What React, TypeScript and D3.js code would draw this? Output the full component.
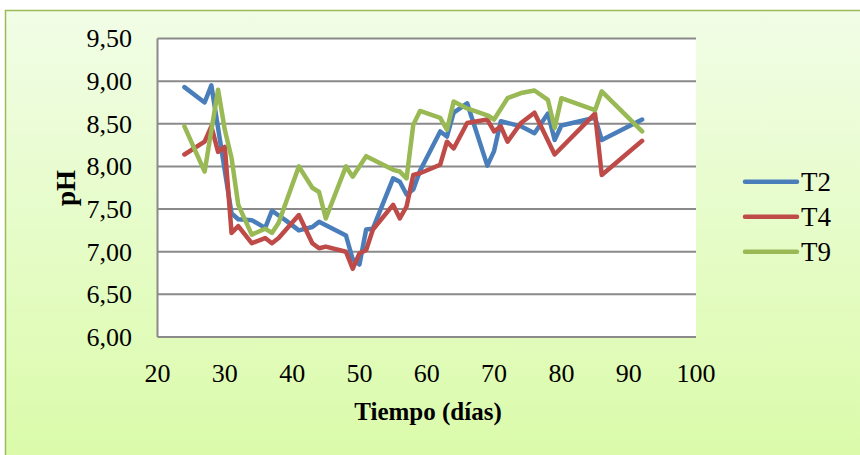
import React from "react";
import * as d3 from "d3";

const yTicks = [6.0, 6.5, 7.0, 7.5, 8.0, 8.5, 9.0, 9.5];
const xTicks = [20, 30, 40, 50, 60, 70, 80, 90, 100];

const t2Days = [24, 27, 28, 31, 32, 34, 36, 37, 39, 41, 43, 44, 48, 49, 50, 51, 52, 55, 56, 57, 58, 59, 62, 63, 64, 66, 69, 70, 71, 74, 76, 78, 79, 80, 85, 86, 92];
const t2Values = [8.93, 8.75, 8.95, 7.45, 7.38, 7.37, 7.28, 7.48, 7.37, 7.25, 7.29, 7.35, 7.19, 6.91, 6.85, 7.26, 7.27, 7.86, 7.82, 7.67, 7.73, 7.95, 8.41, 8.35, 8.63, 8.74, 8.01, 8.18, 8.53, 8.47, 8.39, 8.62, 8.31, 8.48, 8.57, 8.31, 8.55];

const t4Days = [24, 27, 28, 29, 30, 31, 32, 34, 36, 37, 38, 41, 43, 44, 45, 48, 49, 50, 51, 52, 55, 56, 57, 58, 59, 62, 63, 64, 66, 69, 70, 71, 72, 74, 76, 79, 85, 86, 92];
const t4Values = [8.14, 8.29, 8.47, 8.17, 8.23, 7.22, 7.3, 7.1, 7.16, 7.1, 7.16, 7.43, 7.1, 7.04, 7.06, 7.0, 6.8, 6.98, 7.02, 7.26, 7.55, 7.39, 7.53, 7.9, 7.92, 8.02, 8.29, 8.21, 8.51, 8.55, 8.41, 8.47, 8.29, 8.51, 8.63, 8.14, 8.62, 7.9, 8.3];

const t9Days = [24, 27, 29, 30, 31, 32, 34, 36, 37, 38, 41, 43, 44, 45, 48, 49, 51, 55, 56, 57, 58, 59, 62, 63, 64, 66, 69, 70, 72, 74, 76, 78, 79, 80, 85, 86, 92];
const t9Values = [8.47, 7.94, 8.9, 8.43, 8.1, 7.55, 7.2, 7.27, 7.22, 7.34, 8.0, 7.75, 7.7, 7.39, 8.0, 7.88, 8.12, 7.96, 7.94, 7.86, 8.49, 8.65, 8.57, 8.43, 8.76, 8.68, 8.6, 8.55, 8.8, 8.86, 8.89, 8.78, 8.45, 8.8, 8.66, 8.88, 8.41];

const seriesNames = ["T2", "T4", "T9"];
const seriesColors = ["#4a7ebb", "#be4b48", "#98b954"];

export default function App() {
  const W = 860;
  const H = 455;
  const left = 157.5;
  const right = 696;
  const top = 38.5;
  const bottom = 337;
  const x = d3.scaleLinear().domain([20, 100]).range([left, right]);
  const y = d3.scaleLinear().domain([6, 9.5]).range([bottom, top]);
  const line = d3
    .line<[number, number]>()
    .x((d) => x(d[0]))
    .y((d) => y(d[1]));
  const series = [
    t2Days.map((d, i) => [d, t2Values[i]] as [number, number]),
    t4Days.map((d, i) => [d, t4Values[i]] as [number, number]),
    t9Days.map((d, i) => [d, t9Values[i]] as [number, number]),
  ];
  const ts: React.CSSProperties = { fontFamily: '"Liberation Serif"' };
  const fmt = (v: number) => v.toFixed(2).replace(".", ",");

  return (
    <svg
      width={W}
      height={H}
      style={{ position: "absolute", left: 0, top: 0, display: "block" }}
    >
      <defs>
        <linearGradient id="bg" x1="0" y1="0" x2="0" y2="1">
          <stop offset="0" stopColor="#f1fde6" />
          <stop offset="1" stopColor="#dafba8" />
        </linearGradient>
      </defs>
      <rect x={0} y={0} width={W} height={H} fill="#ffffff" />
      <rect x={5.5} y={10.5} width={870} height={460} fill="url(#bg)" stroke="#9bbb59" strokeWidth={1.5} />
      <rect x={left} y={top} width={right - left} height={bottom - top} fill="#ffffff" />
      {yTicks.map((t) => (
        <line key={"g" + t} x1={left} x2={right} y1={y(t)} y2={y(t)} stroke="#8a8a8a" strokeWidth={2} />
      ))}
      <line x1={left} x2={left} y1={top} y2={bottom} stroke="#8a8a8a" strokeWidth={2} />
      {yTicks.map((t) => (
        <text key={"yl" + t} x={132} y={y(t)} dy="0.34em" textAnchor="end" fontSize={26} fill="#000" style={ts}>
          {fmt(t)}
        </text>
      ))}
      {xTicks.map((t) => (
        <text key={"xl" + t} x={x(t)} y={382} textAnchor="middle" fontSize={26} fill="#000" style={ts}>
          {t}
        </text>
      ))}
      {series.map((s, i) => (
        <path
          key={seriesNames[i]}
          d={line(s) || ""}
          fill="none"
          stroke={seriesColors[i]}
          strokeWidth={4.5}
          strokeLinejoin="round"
          strokeLinecap="round"
        />
      ))}
      <text
        transform={`translate(75,188) rotate(-90)`}
        textAnchor="middle"
        fontSize={27}
        fontWeight="bold"
        fill="#000"
        style={ts}
      >
        pH
      </text>
      <text x={428} y={420} textAnchor="middle" fontSize={25} fontWeight="bold" fill="#000" style={ts}>
        Tiempo (días)
      </text>
      {seriesNames.map((n, i) => (
        <g key={"lg" + n} transform={`translate(0,${181.7 + i * 35})`}>
          <line x1={745} x2={797} y1={0} y2={0} stroke={seriesColors[i]} strokeWidth={4.5} strokeLinecap="round" />
          <text x={801} y={0} dy="0.34em" fontSize={27} fill="#000" style={ts}>
            {n}
          </text>
        </g>
      ))}
    </svg>
  );
}
